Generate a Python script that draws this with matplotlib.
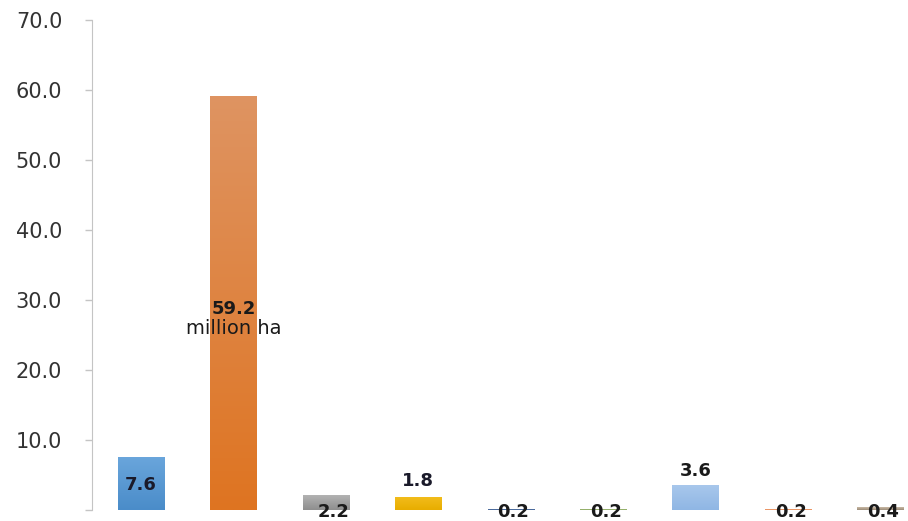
import numpy as np
import matplotlib
matplotlib.use('Agg')
import matplotlib.pyplot as plt
from matplotlib.colors import LinearSegmentedColormap

plt.rcParams['font.family'] = ['DejaVu Sans']

# land area per category (million ha)
valores = [7.6, 59.2, 2.2, 1.8, 0.2, 0.2, 3.6, 0.2, 0.4]
etiquetas = ['7.6', '59.2\nmillion ha', '2.2', '1.8', '0.2', '0.2', '3.6', '0.2', '0.4']
# top / bottom colour of each bar gradient
colores_arriba = ['#6aa6dc', '#df9462', '#b5b5b5', '#f2bc1a', '#6f8fbf', '#b5c98c', '#a9c8ec', '#f2b08a', '#c9b9a5']
colores_abajo = ['#4a8cc9', '#de7421', '#8e8e8e', '#e8ad00', '#3f5f90', '#8aa860', '#8fb6e4', '#e88e5a', '#9c8c78']
yticks = [0, 10, 20, 30, 40, 50, 60, 70]

fig = plt.figure(figsize=(9.08, 5.21), dpi=100)
ax = fig.add_axes([92 / 908, 11 / 521, 1 - 92 / 908, 490 / 521])

x = np.arange(len(valores))
ancho = 0.5
barras = ax.bar(x, valores, width=ancho, color='none')

# fill each bar with a vertical gradient
grad = np.linspace(0, 1, 256).reshape(-1, 1)
for b, c_top, c_bot in zip(barras, colores_arriba, colores_abajo):
    cmap = LinearSegmentedColormap.from_list('g', [c_bot, c_top])
    x0, y0 = b.get_x(), b.get_y()
    img = ax.imshow(grad, cmap=cmap, origin='lower', aspect='auto',
                    extent=[x0, x0 + b.get_width(), y0, y0 + b.get_height()], zorder=2)
    img.set_clip_path(b)

fs = 13
# value labels
ax.text(x[0], 3.6, etiquetas[0], ha='center', va='center', fontsize=fs, fontweight='bold', color='#1a1a2a')
ax.text(x[1], 28.7, '59.2', ha='center', va='center', fontsize=fs, fontweight='bold', color='#1a1a1a')
ax.text(x[1], 26.0, 'million ha', ha='center', va='center', fontsize=14, color='#1a1a1a')
ax.text(x[2] + 0.08, -0.3, etiquetas[2], ha='center', va='center', fontsize=fs, fontweight='bold', color='#1a1a1a', clip_on=False, zorder=3)
ax.text(x[3], valores[3] + 2.3, etiquetas[3], ha='center', va='center', fontsize=fs, fontweight='bold', color='#1a1a2a')
ax.text(x[6], valores[6] + 2.0, etiquetas[6], ha='center', va='center', fontsize=fs, fontweight='bold', color='#1a1a1a')
for i in [4, 5, 7, 8]:
    ax.text(x[i] + 0.03, -0.3, etiquetas[i], ha='center', va='center', fontsize=fs, fontweight='bold',
            color='#1a1a1a', clip_on=False, zorder=3)

ax.set_xlim(-0.53, 8.3)
ax.set_ylim(0, 70)
ax.set_yticks(yticks)
ax.set_yticklabels([''] + ['%.1f' % t for t in yticks[1:]])
ax.set_xticks([])
ax.tick_params(axis='y', colors='#c4c4c4', labelcolor='#333333', labelsize=15, length=5, width=1, pad=16.5)
for s in ['top', 'right', 'bottom']:
    ax.spines[s].set_visible(False)
ax.spines['left'].set_color('#c4c4c4')

plt.savefig('out.png', dpi=100)
